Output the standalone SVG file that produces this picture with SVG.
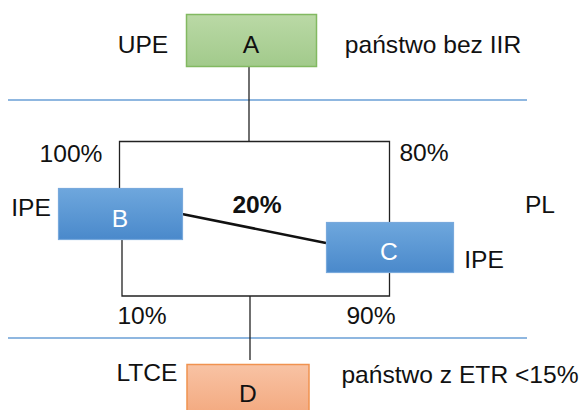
<svg xmlns="http://www.w3.org/2000/svg" width="585" height="410" viewBox="0 0 585 410">
<defs>
<linearGradient id="gA" x1="0" y1="0" x2="0" y2="1"><stop offset="0" stop-color="#bad9a6"/><stop offset="1" stop-color="#a2ca8b"/></linearGradient>
<linearGradient id="gB" x1="0" y1="0" x2="0" y2="1"><stop offset="0" stop-color="#6ea7dd"/><stop offset="1" stop-color="#4a89cb"/></linearGradient>
<linearGradient id="gD" x1="0" y1="0" x2="0" y2="1"><stop offset="0" stop-color="#f8c3a4"/><stop offset="1" stop-color="#f3a87e"/></linearGradient>
</defs>
<style>
text{font-family:"Liberation Sans",Arial,sans-serif;font-size:24.6px;fill:#111}
.c{text-anchor:middle}
.w{fill:#fff}
.b{font-weight:bold}
.conn{stroke:#222;stroke-width:1.3;fill:none}
.sep{stroke:#6a9fd6;stroke-width:1.6}
</style>
<g id="separators">
<line class="sep" x1="8" y1="100" x2="527" y2="100"/>
<line class="sep" x1="8" y1="338" x2="527" y2="338"/>
</g>
<g id="connectors">
<line class="conn" x1="249" y1="66" x2="249" y2="141"/>
<polyline class="conn" points="119.5,188 119.5,141.5 389.5,141.5 389.5,222"/>
<polyline class="conn" points="122,239 122,296 389.5,296 389.5,272"/>
<line class="conn" x1="250" y1="296" x2="250" y2="360"/>
<line stroke="#111" stroke-width="2.6" x1="182" y1="214" x2="326" y2="243"/>
</g>
<g id="nodeA">
<rect x="186.5" y="14.5" width="130" height="52" fill="url(#gA)" stroke="#82b961" stroke-width="1.5"/>
<text class="c" x="251" y="53">A</text>
</g>
<g id="nodeB">
<rect x="58.5" y="188.5" width="124" height="51" fill="url(#gB)" stroke="#78a9dc" stroke-width="1.2"/>
<text class="c w" x="120" y="227">B</text>
</g>
<g id="nodeC">
<rect x="326.5" y="222.5" width="127" height="50" fill="url(#gB)" stroke="#78a9dc" stroke-width="1.2"/>
<text class="c w" x="389" y="260">C</text>
</g>
<g id="nodeD">
<rect x="187" y="364.5" width="122" height="52" fill="url(#gD)" stroke="#f0924f" stroke-width="1.5"/>
<text class="c" x="248" y="402">D</text>
</g>
<g id="labels">
<text class="c" x="143" y="53">UPE</text>
<text class="c" x="433" y="53">państwo bez IIR</text>
<text class="c" x="71" y="162">100%</text>
<text class="c" x="424" y="161">80%</text>
<text class="c" x="31" y="216">IPE</text>
<text class="c b" x="257" y="213">20%</text>
<text class="c" x="540" y="213">PL</text>
<text class="c" x="484" y="268">IPE</text>
<text class="c" x="142" y="324">10%</text>
<text class="c" x="371" y="324">90%</text>
<text class="c" x="147" y="381">LTCE</text>
<text class="c" x="460" y="383">państwo z ETR &lt;15%</text>
</g>
</svg>
